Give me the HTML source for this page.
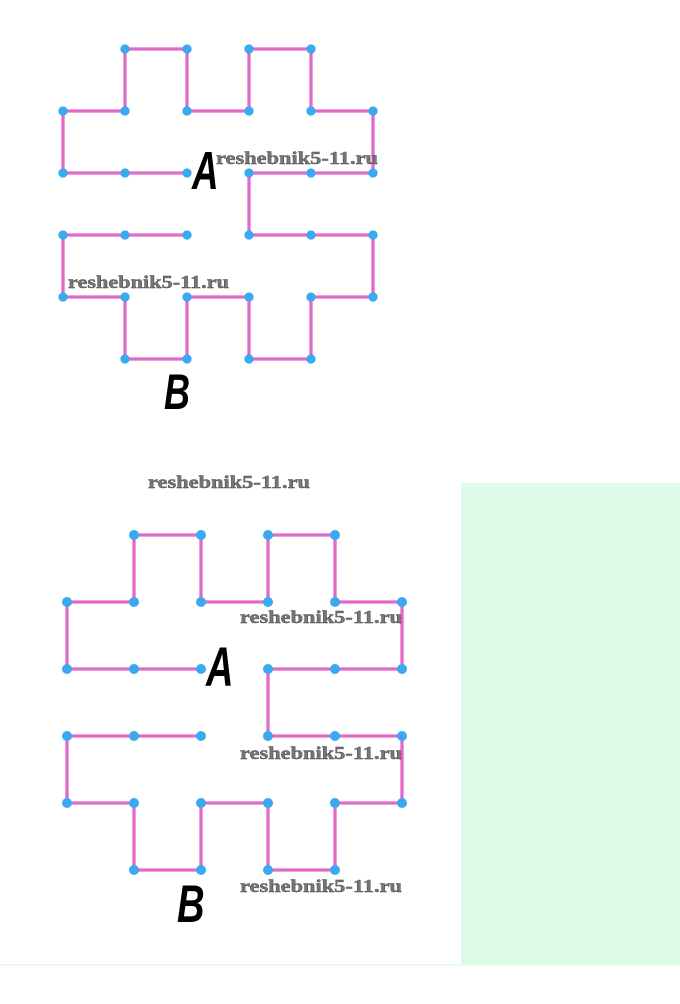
<!DOCTYPE html>
<html><head><style>html,body{margin:0;padding:0;background:#fff;}</style></head>
<body>
<svg width="680" height="999" viewBox="0 0 680 999" xmlns="http://www.w3.org/2000/svg">
<defs>
<g id="fig">
<path d="M1,0H2V1H3V0H4V1H5V2H3V3H5V4H4V5H3V4H2V5H1V4H0V3H2M2,2H0V1H1V0" fill="none" stroke="#e06ac6" stroke-width="3.3" vector-effect="non-scaling-stroke"/>
<g fill="#3aaaf0">
<circle cx="1" cy="0" r="0.075"/><circle cx="2" cy="0" r="0.075"/><circle cx="3" cy="0" r="0.075"/><circle cx="4" cy="0" r="0.075"/>
<circle cx="0" cy="1" r="0.075"/><circle cx="1" cy="1" r="0.075"/><circle cx="2" cy="1" r="0.075"/><circle cx="3" cy="1" r="0.075"/><circle cx="4" cy="1" r="0.075"/><circle cx="5" cy="1" r="0.075"/>
<circle cx="0" cy="2" r="0.075"/><circle cx="1" cy="2" r="0.075"/><circle cx="2" cy="2" r="0.075"/><circle cx="3" cy="2" r="0.075"/><circle cx="4" cy="2" r="0.075"/><circle cx="5" cy="2" r="0.075"/>
<circle cx="0" cy="3" r="0.075"/><circle cx="1" cy="3" r="0.075"/><circle cx="2" cy="3" r="0.075"/><circle cx="3" cy="3" r="0.075"/><circle cx="4" cy="3" r="0.075"/><circle cx="5" cy="3" r="0.075"/>
<circle cx="0" cy="4" r="0.075"/><circle cx="1" cy="4" r="0.075"/><circle cx="2" cy="4" r="0.075"/><circle cx="3" cy="4" r="0.075"/><circle cx="4" cy="4" r="0.075"/><circle cx="5" cy="4" r="0.075"/>
<circle cx="1" cy="5" r="0.075"/><circle cx="2" cy="5" r="0.075"/><circle cx="3" cy="5" r="0.075"/><circle cx="4" cy="5" r="0.075"/>
</g>
</g>
</defs>
<rect x="461" y="483" width="219" height="482" fill="#dcfce9"/>
<rect x="0" y="964" width="680" height="2" fill="#e8fbef"/>
<g transform="translate(63,49) scale(62)"><use href="#fig"/></g>
<g transform="translate(67,535) scale(67)"><use href="#fig"/></g>
<g font-family="'Liberation Sans', sans-serif" font-style="italic" font-weight="bold" fill="#000">
<text x="192" y="189" font-size="54" transform="translate(192,189) scale(0.68,1) translate(-192,-189)">A</text>
<text x="164" y="409" font-size="50" transform="translate(164,409) scale(0.72,1) translate(-164,-409)">B</text>
<text x="206" y="686" font-size="56" transform="translate(206,686) scale(0.68,1) translate(-206,-686)">A</text>
<text x="177" y="922" font-size="53" transform="translate(177,922) scale(0.72,1) translate(-177,-922)">B</text>
</g>
<g font-family="'Liberation Serif', serif" font-weight="bold" font-size="18" fill="#777" stroke="#444" stroke-width="0.4">
<text x="216" y="164" textLength="162" lengthAdjust="spacingAndGlyphs">reshebnik5-11.ru</text>
<text x="68" y="288" textLength="161" lengthAdjust="spacingAndGlyphs">reshebnik5-11.ru</text>
<text x="148" y="488" textLength="162" lengthAdjust="spacingAndGlyphs">reshebnik5-11.ru</text>
<text x="240" y="623" textLength="162" lengthAdjust="spacingAndGlyphs">reshebnik5-11.ru</text>
<text x="240" y="759" textLength="162" lengthAdjust="spacingAndGlyphs">reshebnik5-11.ru</text>
<text x="240" y="892" textLength="162" lengthAdjust="spacingAndGlyphs">reshebnik5-11.ru</text>
</g>
</svg>
</body></html>
